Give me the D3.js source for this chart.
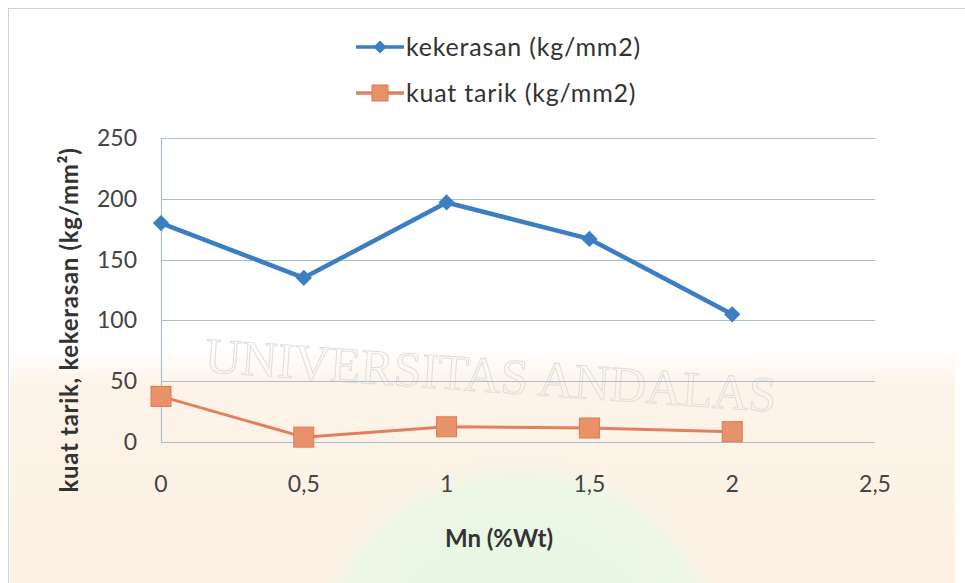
<!DOCTYPE html>
<html>
<head>
<meta charset="utf-8">
<script src="https://cdn.jsdelivr.net/npm/d3@7"></script>
<style>
  body { margin: 0; background: #fff; }
  text { font-family: Lato, "Open Sans", sans-serif; }
</style>
</head>
<body>
<div id="chart"></div>
<script>
// values
var mn = [0, 0.5, 1, 1.5, 2];
var kekerasan = [180, 135, 197, 167, 105];
var kuatTarik = [37.5, 4, 12.5, 11.5, 8.5];
var xTicks = [0, 0.5, 1, 1.5, 2, 2.5];
var yTicks = [0, 50, 100, 150, 200, 250];

var series = [
    { name: "kekerasan (kg/mm2)", values: kekerasan, color: "#3b7ec4", marker: "diamond" },
    { name: "kuat tarik (kg/mm2)", values: kuatTarik, color: "#e2805e", marker: "square" }
];

var width = 965, height = 583;
var margin = { top: 138, right: 90, bottom: 141, left: 161 };

var svg = d3.select("#chart").append("svg")
    .attr("width", width)
    .attr("height", height);

// pale watermark tones of the scanned page (soft gradients)
var defs = svg.append("defs");
var peach = defs.append("linearGradient")
    .attr("id", "peach").attr("x1", 0).attr("x2", 0).attr("y1", 0).attr("y2", 1);
peach.append("stop").attr("offset", "0%").attr("stop-color", "#fdf3e8").attr("stop-opacity", 0);
peach.append("stop").attr("offset", "15%").attr("stop-color", "#fdf3e8").attr("stop-opacity", 1);
peach.append("stop").attr("offset", "100%").attr("stop-color", "#fdf1e4").attr("stop-opacity", 1);
var green = defs.append("radialGradient").attr("id", "green");
green.append("stop").attr("offset", "0%").attr("stop-color", "#e8f6e2");
green.append("stop").attr("offset", "85%").attr("stop-color", "#ecf7e6");
green.append("stop").attr("offset", "100%").attr("stop-color", "#fdf3e8").attr("stop-opacity", 0);

svg.append("rect")
    .attr("x", 10).attr("y", 350)
    .attr("width", width - 20).attr("height", height - 350)
    .style("fill", "url(#peach)");
svg.append("ellipse")
    .attr("cx", 520).attr("cy", 660)
    .attr("rx", 220).attr("ry", 210)
    .style("fill", "url(#green)");

// outer frame of the chart object
svg.append("rect")
    .attr("x", 8.5).attr("y", 8.5)
    .attr("width", width - 4).attr("height", height)
    .style("fill", "none")
    .style("stroke", "#c9d3dc")
    .style("stroke-width", "1px");

svg.append("text")
    .attr("x", 490).attr("y", 392)
    .attr("text-anchor", "middle")
    .attr("transform", "rotate(4, 490, 390)")
    .style("font-family", "'Liberation Serif', serif")
    .style("font-size", "50px")
    .style("fill", "none")
    .style("stroke", "#dedede")
    .style("stroke-width", "1px")
    .text("UNIVERSITAS ANDALAS");

var x = d3.scaleLinear()
    .domain([0, 2.5])
    .range([margin.left, width - margin.right]);

var y = d3.scaleLinear()
    .domain([0, 250])
    .range([height - margin.bottom, margin.top]);

var fmt = d => String(d).replace(".", ",");

// horizontal gridlines
svg.append("g")
    .selectAll("line")
    .data(yTicks)
    .enter().append("line")
    .attr("x1", x(0))
    .attr("x2", x(2.5))
    .attr("y1", d => Math.round(y(d)) + 0.5)
    .attr("y2", d => Math.round(y(d)) + 0.5)
    .style("stroke", "#a9bdd3")
    .style("stroke-width", "1.2px");

// vertical axis line
svg.append("line")
    .attr("x1", x(0) + 0.5).attr("x2", x(0) + 0.5)
    .attr("y1", y(250)).attr("y2", y(0))
    .style("stroke", "#a9bdd3")
    .style("stroke-width", "1.2px");

// y tick labels
svg.append("g")
    .selectAll("text")
    .data(yTicks)
    .enter().append("text")
    .attr("x", x(0) - 24)
    .attr("y", d => y(d))
    .attr("dy", "0.35em")
    .attr("text-anchor", "end")
    .style("font-size", "23px")
    .style("fill", "#444")
    .text(d => d);

// x tick labels
svg.append("g")
    .selectAll("text")
    .data(xTicks)
    .enter().append("text")
    .attr("x", d => x(d))
    .attr("y", y(0) + 42)
    .attr("dy", "0.35em")
    .attr("text-anchor", "middle")
    .style("font-size", "23px")
    .style("fill", "#444")
    .text(fmt);

// axis titles
svg.append("text")
    .attr("x", 499)
    .attr("y", 539)
    .attr("dy", "0.35em")
    .attr("text-anchor", "middle")
    .style("font-size", "24px")
    .style("font-weight", "bold")
    .style("fill", "#333")
    .text("Mn (%Wt)");

svg.append("text")
    .attr("transform", "translate(70, 320) rotate(-90)")
    .attr("dy", "0.35em")
    .attr("text-anchor", "middle")
    .style("font-size", "24px")
    .style("letter-spacing", "0.7px")
    .style("font-weight", "bold")
    .style("fill", "#333")
    .text("kuat tarik, kekerasan (kg/mm²)");

var line = d3.line()
    .x((d, i) => x(mn[i]))
    .y(d => y(d));

function drawMarker(g, s, cx, cy, small) {
    if (s.marker === "diamond") {
        g.append("path")
            .attr("d", d3.symbol().type(d3.symbolDiamond2).size(small ? 110 : 170)())
            .attr("transform", "translate(" + cx + "," + cy + ")")
            .style("fill", s.color);
    } else {
        var h = small ? 8 : 10;
        g.append("rect")
            .attr("x", cx - h).attr("y", cy - h)
            .attr("width", 2 * h).attr("height", 2 * h)
            .style("fill", "#e8926a")
            .style("stroke", "#e07850")
            .style("stroke-width", "1px");
    }
}

series.forEach(function (s) {
    var g = svg.append("g");
    g.append("path")
        .datum(s.values)
        .attr("d", line)
        .style("fill", "none")
        .style("stroke", s.color)
        .style("stroke-width", s.marker === "diamond" ? "4.5px" : "3px")
        .style("stroke-linejoin", "round");
    s.values.forEach(function (v, i) {
        drawMarker(g, s, x(mn[i]), y(v), false);
    });
});

// legend at the top
var legend = svg.append("g");
series.forEach(function (s, i) {
    var ly = 47 + i * 46;
    legend.append("line")
        .attr("x1", 356).attr("x2", 404)
        .attr("y1", ly).attr("y2", ly)
        .style("stroke", s.color)
        .style("stroke-width", "3.5px");
    drawMarker(legend, s, 380, ly, true);
    legend.append("text")
        .attr("x", 406)
        .attr("y", ly)
        .attr("dy", "0.35em")
        .style("font-size", "25px")
        .style("letter-spacing", "0.8px")
        .style("fill", "#333")
        .text(s.name);
});
</script>
</body>
</html>
